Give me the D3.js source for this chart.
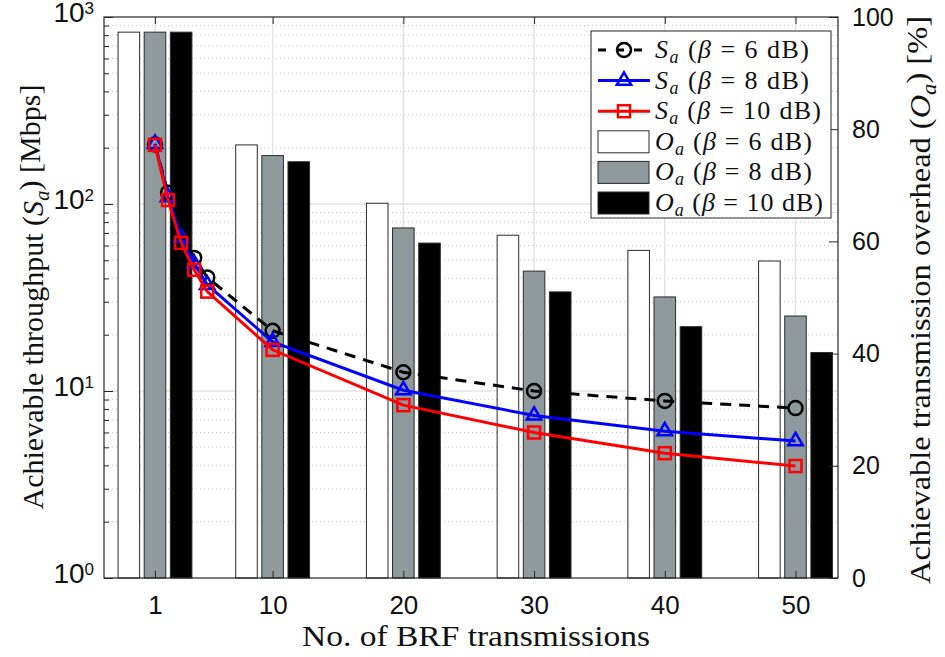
<!DOCTYPE html>
<html><head><meta charset="utf-8">
<script src="https://cdn.jsdelivr.net/npm/d3@7"></script>
<style>
body{margin:0;background:#fff;}
svg{display:block;}
.tick text{font-family:"Liberation Sans",Arial,sans-serif;}
.serif{font-family:"Liberation Serif","Times New Roman","DejaVu Serif",serif;}
</style></head>
<body><svg id="c" width="945" height="657"></svg>
<script>
// ---- data ----
const xTickVals = [1, 10, 20, 30, 40, 50];
const nBRF = [1, 2, 3, 4, 5, 10, 20, 30, 40, 50];
const thr6 = [208, 115, 70, 51.5, 40.5, 21, 12.6, 10, 8.85, 8.1];
const thr8 = [210, 109, 66, 48, 37, 18.3, 10.1, 7.4, 6.1, 5.4];
const thr10 = [207, 105, 62, 44.5, 34, 16.6, 8.4, 6.0, 4.65, 3.97];
const barX = [1, 10, 20, 30, 40, 50];
const ovh6 = [97.3, 77.2, 66.8, 61.1, 58.4, 56.5];
const ovh8 = [97.3, 75.3, 62.4, 54.7, 50.1, 46.7];
const ovh10 = [97.3, 74.2, 59.7, 51.0, 44.8, 40.2];
const yLeftTicks = [1, 10, 100, 1000];
const yRightTicks = [0, 20, 40, 60, 80, 100];

const svg = d3.select("#c");
const L = 104, R = 838, T = 17, B = 578;
const x = d3.scaleLinear().domain([-2.9, 53.25]).range([L, R]);
const yL = d3.scaleLog().domain([1, 1000]).range([B, T]);
const yR = d3.scaleLinear().domain([0, 100]).range([B, T]);

const g = svg.append("g");
// minor grid (log)
const minor = [];
for (let d = 1; d < 1000; d *= 10) for (let k = 2; k <= 9; k++) minor.push(d * k);
g.selectAll(".mg").data(minor).enter().append("line")
  .attr("x1", L).attr("x2", R).attr("y1", d => yL(d)).attr("y2", d => yL(d))
  .attr("stroke", "#c8c8c8").attr("stroke-width", 1).attr("stroke-dasharray", "1,3");
// major grid
g.selectAll(".Mg").data(yLeftTicks.slice(1, 3)).enter().append("line")
  .attr("x1", L).attr("x2", R).attr("y1", d => yL(d)).attr("y2", d => yL(d))
  .attr("stroke", "#e3e3e3").attr("stroke-width", 1.5);
g.selectAll(".Vg").data(xTickVals).enter().append("line")
  .attr("y1", T).attr("y2", B).attr("x1", d => x(d)).attr("x2", d => x(d))
  .attr("stroke", "#e3e3e3").attr("stroke-width", 1.5);

// bars
const bw = x(1.65) - x(0);
const barSeries = [
  {v: ovh6, off: -2, fill: "#ffffff"},
  {v: ovh8, off: 0, fill: "#8f9a9d"},
  {v: ovh10, off: 2, fill: "#000000"}
];
barSeries.forEach(s => {
  g.selectAll(null).data(barX.map((b, i) => [b, s.v[i]])).enter().append("rect")
    .attr("x", d => x(d[0] + s.off) - bw / 2).attr("width", bw)
    .attr("y", d => yR(d[1])).attr("height", d => yR(0) - yR(d[1]))
    .attr("fill", s.fill).attr("stroke", "#2a2a2a").attr("stroke-width", 1);
});

// lines
const lineSeries = [
  {v: thr6, color: "#000", dash: "11,8", marker: "circle"},
  {v: thr8, color: "#0000ff", dash: null, marker: "triangle"},
  {v: thr10, color: "#ff0000", dash: null, marker: "square"}
];
const line = d3.line().x(d => x(d[0])).y(d => yL(d[1]));
function drawMarker(sel, type, color) {
  if (type === "circle") sel.append("circle").attr("r", 7).attr("fill", "none").attr("stroke", color).attr("stroke-width", 2.5);
  else if (type === "triangle") sel.append("path").attr("d", d3.symbol().type(d3.symbolTriangle).size(90)).attr("fill", "none").attr("stroke", color).attr("stroke-width", 2.5);
  else sel.append("rect").attr("x", -6).attr("y", -6).attr("width", 12).attr("height", 12).attr("fill", "none").attr("stroke", color).attr("stroke-width", 2.5);
}
lineSeries.forEach(s => {
  const pts = nBRF.map((n, i) => [n, s.v[i]]);
  g.append("path").datum(pts).attr("d", line).attr("fill", "none")
    .attr("stroke", s.color).attr("stroke-width", 3).attr("stroke-dasharray", s.dash);
  pts.forEach(p => {
    const m = g.append("g").attr("transform", `translate(${x(p[0])},${yL(p[1])})`);
    drawMarker(m, s.marker, s.color);
  });
});

// frame
svg.append("rect").attr("x", L).attr("y", T).attr("width", R - L).attr("height", B - T)
  .attr("fill", "none").attr("stroke", "#262626").attr("stroke-width", 1.2);

// axes
const axStyle = sel => { sel.select(".domain").remove(); sel.selectAll(".tick line").attr("stroke", "#262626"); sel.selectAll(".tick text").attr("fill", "#111"); };
svg.append("g").attr("transform", `translate(0,${B})`)
  .call(d3.axisBottom(x).tickValues(xTickVals).tickSize(-7).tickPadding(18).tickFormat(d3.format("d")))
  .call(axStyle).selectAll("text").attr("font-size", 26);
svg.append("g").attr("transform", `translate(0,${T})`)
  .call(d3.axisTop(x).tickValues(xTickVals).tickSize(-7).tickFormat(""))
  .call(axStyle);
// left log axis
const yAx = svg.append("g").attr("transform", `translate(${L},0)`)
  .call(d3.axisLeft(yL).tickValues(yLeftTicks).tickSize(-9).tickPadding(12).tickFormat(""))
  .call(axStyle);
yAx.selectAll(".tick").append("text").attr("x", -10).attr("dy", "0.4em").attr("text-anchor", "end")
  .attr("fill", "#111")
  .each(function(d) {
    const t = d3.select(this);
    t.append("tspan").attr("font-size", 28).text("10");
    t.append("tspan").attr("font-size", 17).attr("dy", "-0.45em").text(Math.round(Math.log10(d)));
  });
svg.append("g").attr("transform", `translate(${L},0)`)
  .call(d3.axisLeft(yL).tickValues(minor).tickSize(-5).tickFormat(""))
  .call(axStyle);
// right axis
svg.append("g").attr("transform", `translate(${R},0)`)
  .call(d3.axisRight(yR).tickValues(yRightTicks).tickSize(-9).tickPadding(14).tickFormat(d3.format("d")))
  .call(axStyle).selectAll("text").attr("font-size", 25);

// axis titles
svg.append("text").attr("class", "serif").attr("x", 476).attr("y", 646).attr("text-anchor", "middle")
  .attr("font-size", 30).attr("fill", "#111")
  .attr("textLength", 348).attr("lengthAdjust", "spacingAndGlyphs")
  .text("No. of BRF transmissions");
function labelWithSym(sel, pre, sym, post) {
  sel.append("tspan").text(pre);
  sel.append("tspan").attr("font-style", "italic").text(sym);
  sel.append("tspan").attr("font-style", "italic").attr("font-size", "0.7em").attr("dy", "0.3em").text("a");
  sel.append("tspan").attr("dy", "-0.3em").text(post);
}
const yl = svg.append("text").attr("class", "serif").attr("transform", "translate(43,297) rotate(-90)").attr("text-anchor", "middle")
  .attr("font-size", 30).attr("fill", "#111")
  .attr("textLength", 425).attr("lengthAdjust", "spacingAndGlyphs");
labelWithSym(yl, "Achievable throughput (", "S", ") [Mbps]");
const yr = svg.append("text").attr("class", "serif").attr("transform", "translate(930,300) rotate(-90)").attr("text-anchor", "middle")
  .attr("font-size", 29).attr("fill", "#111")
  .attr("textLength", 568).attr("lengthAdjust", "spacingAndGlyphs");
labelWithSym(yr, "Achievable transmission overhead (", "O", ") [%]");

// legend
const lg = svg.append("g");
lg.append("rect").attr("x", 591).attr("y", 31).attr("width", 240).attr("height", 187)
  .attr("fill", "#fff").attr("stroke", "#262626").attr("stroke-width", 1);
const legendItems = [
  {sym: "S", beta: "6", kind: "line", s: lineSeries[0], w: 154},
  {sym: "S", beta: "8", kind: "line", s: lineSeries[1], w: 154},
  {sym: "S", beta: "10", kind: "line", s: lineSeries[2], w: 166},
  {sym: "O", beta: "6", kind: "bar", s: barSeries[0], w: 157},
  {sym: "O", beta: "8", kind: "bar", s: barSeries[1], w: 157},
  {sym: "O", beta: "10", kind: "bar", s: barSeries[2], w: 168}
];
legendItems.forEach((it, i) => {
  const cy = 50 + i * 30.6;
  if (it.kind === "line") {
    lg.append("line").attr("x1", 598).attr("x2", 650).attr("y1", cy).attr("y2", cy)
      .attr("stroke", it.s.color).attr("stroke-width", 3).attr("stroke-dasharray", it.s.dash ? "8,10" : null);
    const m = lg.append("g").attr("transform", `translate(624,${cy})`);
    drawMarker(m, it.s.marker, it.s.color);
  } else {
    lg.append("rect").attr("x", 598).attr("y", cy - 11).attr("width", 51).attr("height", 22)
      .attr("fill", it.s.fill).attr("stroke", "#2a2a2a").attr("stroke-width", 1);
  }
  const t = lg.append("text").attr("class", "serif").attr("x", 655).attr("y", cy + 8).attr("font-size", 26).attr("fill", "#111")
    .attr("textLength", it.w).attr("lengthAdjust", "spacing");
  t.append("tspan").attr("font-style", "italic").text(it.sym);
  t.append("tspan").attr("font-style", "italic").attr("font-size", 18).attr("dy", 5).text("a");
  t.append("tspan").attr("dy", -5).text(" (");
  t.append("tspan").attr("font-style", "italic").text("β");
  t.append("tspan").text(" = " + it.beta + " dB)");
});
</script>
</body></html>
